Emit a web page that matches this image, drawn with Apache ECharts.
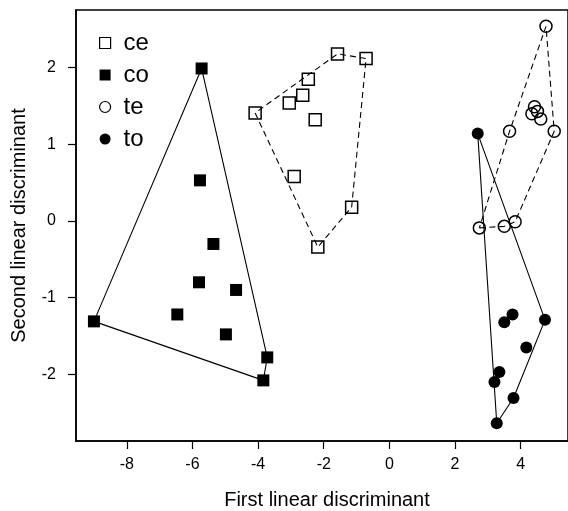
<!DOCTYPE html>
<html>
<head>
<meta charset="utf-8">
<script src="https://cdn.jsdelivr.net/npm/echarts@6/dist/echarts.min.js"></script>
<style>
  html, body { margin: 0; padding: 0; background: #fff; }
  #lda { width: 568px; height: 511px; }
</style>
</head>
<body>
<div id="lda"></div>
<script>
// discriminant scores per group
var ceX = [-1.58, -0.71, -2.47, -2.64, -3.05, -4.09, -2.26, -2.90, -1.15, -2.18];
var ceY = [2.18, 2.12, 1.85, 1.64, 1.54, 1.41, 1.32, 0.58, 0.18, -0.34];
var coX = [-5.72, -5.77, -5.36, -5.80, -4.67, -6.46, -9.00, -4.98, -3.72, -3.84];
var coY = [1.99, 0.53, -0.30, -0.80, -0.90, -1.22, -1.31, -1.48, -1.78, -2.08];
var teX = [4.77, 4.42, 4.34, 4.51, 4.61, 5.02, 3.66, 2.74, 3.50, 3.83];
var teY = [2.54, 1.49, 1.40, 1.43, 1.33, 1.17, 1.17, -0.09, -0.07, -0.01];
var toX = [2.69, 4.74, 3.75, 3.50, 4.17, 3.35, 3.20, 3.78, 3.27];
var toY = [1.14, -1.29, -1.22, -1.32, -1.65, -1.97, -2.10, -2.31, -2.64];

var xTicks = [-8, -6, -4, -2, 0, 2, 4];
var yTicks = [-2, -1, 0, 1, 2];

var font = 'Liberation Sans, Arial, Helvetica, sans-serif';

function pairs(xs, ys) {
    return xs.map(function (x, i) { return [x, ys[i]]; });
}

// convex hull (monotone chain), closed for drawing
function hull(pts) {
    var p = pts.slice().sort(function (a, b) { return a[0] - b[0] || a[1] - b[1]; });
    function cross(o, a, b) { return (a[0] - o[0]) * (b[1] - o[1]) - (a[1] - o[1]) * (b[0] - o[0]); }
    var lower = [], upper = [];
    p.forEach(function (q) {
        while (lower.length >= 2 && cross(lower[lower.length - 2], lower[lower.length - 1], q) <= 0) lower.pop();
        lower.push(q);
    });
    p.slice().reverse().forEach(function (q) {
        while (upper.length >= 2 && cross(upper[upper.length - 2], upper[upper.length - 1], q) <= 0) upper.pop();
        upper.push(q);
    });
    var h = lower.slice(0, -1).concat(upper.slice(0, -1));
    h.push(h[0]);
    return h;
}

var groups = [
    { name: 'ce', pts: pairs(ceX, ceY), symbol: 'rect', filled: false, dashed: true },
    { name: 'co', pts: pairs(coX, coY), symbol: 'rect', filled: true, dashed: false },
    { name: 'te', pts: pairs(teX, teY), symbol: 'circle', filled: false, dashed: true },
    { name: 'to', pts: pairs(toX, toY), symbol: 'circle', filled: true, dashed: false }
];

var series = [];
groups.forEach(function (g) {
    series.push({
        type: 'line',
        data: hull(g.pts),
        showSymbol: false,
        silent: true,
        z: 1,
        lineStyle: { color: '#000', width: 1.1, type: g.dashed ? [6, 4] : 'solid' }
    });
});
groups.forEach(function (g) {
    series.push({
        name: g.name,
        type: 'scatter',
        data: g.pts,
        symbol: g.symbol,
        symbolSize: 12,
        z: 3,
        itemStyle: g.filled
            ? { color: '#000', opacity: 1 }
            : { color: 'rgba(0,0,0,0)', borderColor: '#000', borderWidth: 1.5, opacity: 1 }
    });
});

var chart = echarts.init(document.getElementById('lda'), null, { renderer: 'canvas' });
chart.setOption({
    backgroundColor: '#fff',
    animation: false,
    textStyle: { fontFamily: font },
    grid: {
        left: 76, top: 10, right: 0, bottom: 70,
        outerBoundsMode: 'none',
        show: true, borderColor: '#000', borderWidth: 1.5, backgroundColor: 'transparent'
    },
    legend: {
        orient: 'vertical',
        left: 94, top: 26,
        itemWidth: 11, itemHeight: 11,
        itemGap: 8,
        textStyle: { fontSize: 24, color: '#000', fontFamily: font, padding: [0, 0, 0, 8] },
        data: [
            { name: 'ce', icon: 'rect', itemStyle: { color: '#fff', borderColor: '#000', borderWidth: 1.2 } },
            { name: 'co', icon: 'rect', itemStyle: { color: '#000', opacity: 1 } },
            { name: 'te', icon: 'circle', itemStyle: { color: '#fff', borderColor: '#000', borderWidth: 1.2 } },
            { name: 'to', icon: 'circle', itemStyle: { color: '#000', opacity: 1 } }
        ]
    },
    xAxis: {
        type: 'value',
        min: -9.546, max: 5.44,
        name: 'First linear discriminant',
        nameLocation: 'middle',
        nameGap: 49,
        nameTextStyle: { fontSize: 20, color: '#000', fontFamily: font, padding: [0, 0, 0, 10] },
        axisLine: { show: true, onZero: false, lineStyle: { color: '#000', width: 1.5 } },
        axisTick: { show: true, length: 8, lineStyle: { color: '#000', width: 1.2 }, customValues: xTicks },
        axisLabel: { fontSize: 16, color: '#000', margin: 16, customValues: xTicks },
        splitLine: { show: false }
    },
    yAxis: {
        type: 'value',
        min: -2.871, max: 2.753,
        name: 'Second linear discriminant',
        nameLocation: 'middle',
        nameGap: 47,
        nameTextStyle: { fontSize: 20, color: '#000', fontFamily: font },
        axisLine: { show: true, onZero: false, lineStyle: { color: '#000', width: 1.5 } },
        axisTick: { show: true, length: 8, lineStyle: { color: '#000', width: 1.2 }, customValues: yTicks },
        axisLabel: { fontSize: 16, color: '#000', margin: 20, customValues: yTicks },
        splitLine: { show: false }
    },
    series: series
});
</script>
</body>
</html>
